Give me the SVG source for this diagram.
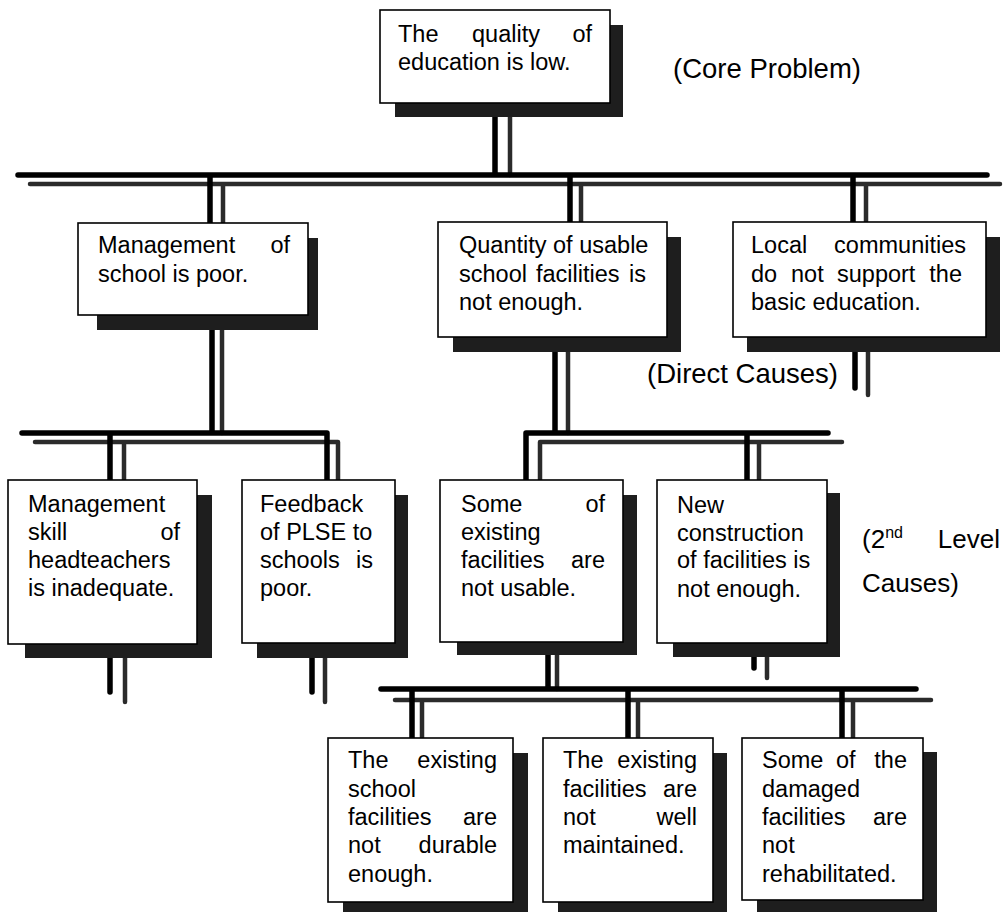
<svg xmlns="http://www.w3.org/2000/svg" width="1005" height="912" viewBox="0 0 1005 912">
<style>
.bg{fill:#fff}
.box{fill:#fff;stroke:#000;stroke-width:1.6}
.shd{fill:#1e1e1e}
.ln{stroke:#000;stroke-width:5.5;fill:none;stroke-linecap:round;stroke-linejoin:round}
.sl{stroke:#2b2b2b;stroke-width:4.5;fill:none;stroke-linecap:round;stroke-linejoin:round}
text{font-family:"Liberation Sans",Arial,sans-serif;font-size:23.5px;fill:#000}
.lbl{font-size:27.5px}
.lbl2{font-size:26px}
.e{text-anchor:end}
</style>
<rect class="bg" x="0" y="0" width="1005" height="912"/>
<g id="connectors">
<path class="sl" d="M510 117V175M30 184H1000M223 184V223M581 184V222M866 184V222M222 330V433M35 442H338V480M124 442V480M125 658V702M325 658V702M568 352V433M540 480V442H842M759 442V480M868 352V395M557 655V689M767 657V678M395 700H931M422 700V738M638 700V738M853 700V738"/>
<path class="ln" d="M495 103V175M18 175H987M210 175V223M570 175V222M853 175V222M212 315V433M22 433H327V480M110 433V480M110 644V692M312 643V692M555 337V433M526 480V433H828M747 433V480M855 337V388M548 642V689M754 643V668M381 689H916M412 689V738M628 689V738M842 689V738"/>
</g>
<g id="core">
<rect class="shd" x="395" y="25" width="228" height="92"/>
<rect class="box" x="380" y="10" width="230" height="93"/>
<text x="398" y="42">The</text><text x="472" y="42">quality</text><text class="e" x="592" y="42">of</text>
<text x="398" y="70">education is low.</text>
</g>
<g id="management">
<rect class="shd" x="97" y="238" width="221" height="92"/>
<rect class="box" x="78" y="223" width="230" height="92"/>
<text x="98" y="253">Management</text><text class="e" x="290" y="253">of</text>
<text x="98" y="282">school is poor.</text>
</g>
<g id="quantity">
<rect class="shd" x="453" y="237" width="228" height="115"/>
<rect class="box" x="438" y="222" width="229" height="115"/>
<text x="459" y="253">Quantity of usable</text>
<text x="459" y="282">school</text><text x="536" y="282">facilities</text><text class="e" x="646" y="282">is</text>
<text x="459" y="310">not enough.</text>
</g>
<g id="local">
<rect class="shd" x="747" y="237" width="253" height="115"/>
<rect class="box" x="733" y="222" width="253" height="115"/>
<text x="751" y="253">Local</text><text class="e" x="966" y="253">communities</text>
<text x="751" y="282">do</text><text x="791" y="282">not</text><text x="837" y="282">support</text><text class="e" x="962" y="282">the</text>
<text x="751" y="310">basic education.</text>
</g>
<g id="skill">
<rect class="shd" x="25" y="495" width="187" height="163"/>
<rect class="box" x="8" y="480" width="189" height="164"/>
<text x="28" y="512">Management</text>
<text x="28" y="540">skill</text><text class="e" x="180" y="540">of</text>
<text x="28" y="568">headteachers</text>
<text x="28" y="596">is inadequate.</text>
</g>
<g id="feedback">
<rect class="shd" x="257" y="495" width="151" height="163"/>
<rect class="box" x="242" y="480" width="153" height="163"/>
<text x="260" y="512">Feedback</text>
<text x="260" y="540">of PLSE to</text>
<text x="260" y="568">schools</text><text class="e" x="373" y="568">is</text>
<text x="260" y="596">poor.</text>
</g>
<g id="some-existing">
<rect class="shd" x="457" y="495" width="180" height="160"/>
<rect class="box" x="440" y="480" width="183" height="162"/>
<text x="461" y="512">Some</text><text class="e" x="605" y="512">of</text>
<text x="461" y="540">existing</text>
<text x="461" y="568">facilities</text><text class="e" x="605" y="568">are</text>
<text x="461" y="596">not usable.</text>
</g>
<g id="new-construction">
<rect class="shd" x="673" y="493" width="167" height="164"/>
<rect class="box" x="657" y="480" width="170" height="163"/>
<text x="677" y="513">New</text>
<text x="677" y="541">construction</text>
<text x="677" y="568">of facilities is</text>
<text x="677" y="597">not enough.</text>
</g>
<g id="not-durable">
<rect class="shd" x="343" y="753" width="185" height="165"/>
<rect class="box" x="328" y="738" width="185" height="164"/>
<text x="348" y="768">The</text><text class="e" x="497" y="768">existing</text>
<text x="348" y="797">school</text>
<text x="348" y="825">facilities</text><text class="e" x="497" y="825">are</text>
<text x="348" y="853">not</text><text class="e" x="497" y="853">durable</text>
<text x="348" y="882">enough.</text>
</g>
<g id="not-maintained">
<rect class="shd" x="558" y="753" width="169" height="165"/>
<rect class="box" x="543" y="738" width="170" height="164"/>
<text x="563" y="768">The</text><text class="e" x="697" y="768">existing</text>
<text x="563" y="797">facilities</text><text class="e" x="697" y="797">are</text>
<text x="563" y="825">not</text><text class="e" x="697" y="825">well</text>
<text x="563" y="853">maintained.</text>
</g>
<g id="not-rehabilitated">
<rect class="shd" x="757" y="752" width="180" height="166"/>
<rect class="box" x="742" y="738" width="181" height="162"/>
<text x="762" y="768">Some</text><text x="836" y="768">of</text><text class="e" x="907" y="768">the</text>
<text x="762" y="797">damaged</text>
<text x="762" y="825">facilities</text><text class="e" x="907" y="825">are</text>
<text x="762" y="853">not</text>
<text x="762" y="882">rehabilitated.</text>
</g>
<g id="labels">
<text class="lbl" x="673" y="78">(Core Problem)</text>
<text class="lbl" x="647" y="383">(Direct Causes)</text>
<text class="lbl2" x="862" y="548">(2<tspan font-size="16" dy="-10">nd</tspan></text>
<text class="lbl2 e" x="1000" y="548">Level</text>
<text class="lbl2" x="862" y="592">Causes)</text>
</g>
</svg>
